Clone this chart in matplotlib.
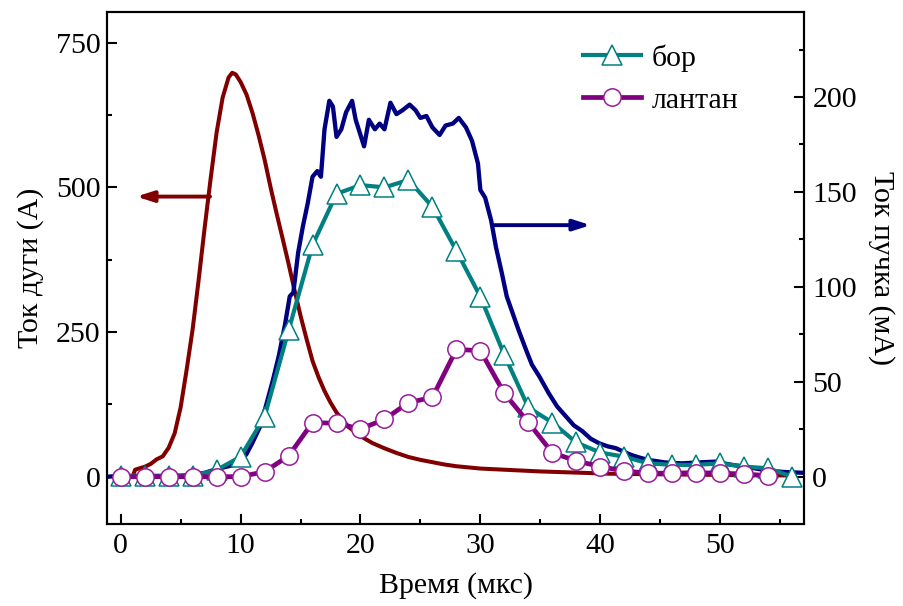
import matplotlib
matplotlib.use("Agg")
import matplotlib.pyplot as plt
from matplotlib.ticker import MultipleLocator

plt.rcParams['font.family'] = ['Liberation Serif', 'DejaVu Serif']

# Arc current (A), left axis
arc_t = [1.0, 1.2, 1.5, 2.0, 2.5, 3.0, 3.5, 4.0, 4.5, 5.0, 5.5, 6.0, 6.5, 7.0, 7.5,
         8.0, 8.5, 9.0, 9.3, 9.6, 10.0, 10.5, 11.0, 11.5, 12.0, 12.5, 13.0, 13.5,
         14.0, 14.5, 15.0, 15.5, 16.0, 16.5, 17.0, 17.5, 18.0, 19.0, 20.0, 21.0,
         22.0, 23.0, 24.0, 25.0, 26.0, 27.0, 28.0, 30.0, 32.0, 35.0, 38.0, 41.0,
         45.0, 50.0, 56.0]
arc_i = [0, 12, 14, 17, 22, 30, 35, 50, 75, 120, 185, 255, 340, 430, 515,
         595, 655, 690, 698, 695, 682, 660, 628, 590, 548, 500, 455, 412,
         368, 322, 278, 238, 200, 172, 148, 128, 111, 86, 70, 58,
         49, 41, 34, 29, 25, 21, 18, 14, 12, 9, 7, 5,
         4, 3, 2]

# Total beam current (mA), right axis
beam_t = [-1.0, 0, 1, 2, 3, 4, 5, 6, 7, 8, 9, 9.9, 10.5, 11.0, 11.6, 12.1, 12.7,
          13.2, 13.7, 14.1, 14.4, 14.8, 15.2, 15.6, 16.0, 16.4, 16.7, 17.0, 17.4,
          17.7, 18.0, 18.4, 18.8, 19.3, 19.6, 20.0, 20.3, 20.7, 21.2, 21.6, 22.0,
          22.5, 23.0, 23.5, 24.1, 24.6, 25.0, 25.5, 26.0, 26.6, 27.1, 27.7, 28.2,
          28.8, 29.3, 29.8, 30.0, 30.4, 30.9, 31.3, 31.8, 32.2, 32.7, 33.2, 33.8,
          34.3, 34.9, 35.7, 36.4, 37.1, 37.8, 38.5, 39.2, 39.9, 40.6, 41.3, 42.0,
          42.6, 43.3, 44.0, 45.4, 46.8, 48.2, 49.6, 50.3, 51.0, 52.3, 53.7, 55.2,
          57.0]
beam_i = [0, 0.5, 0, 0.5, 0, 0.5, 0.5, 1, 2, 4, 5.5, 7, 12, 18, 26, 37, 51,
          64, 80, 95, 97, 118, 132, 144, 158, 161, 158, 183, 198,
          195, 179, 183, 192, 198, 188, 180, 174, 188, 183, 186, 183,
          197, 191, 193, 196, 193, 189, 190, 184, 180, 185, 186, 189,
          184, 177, 165, 151, 147, 135, 121, 107, 95, 86, 77, 67,
          59, 53, 44, 37, 32, 27, 24, 20, 17.6, 16, 15, 13,
          11.4, 10, 8.8, 7.5, 7, 7.5, 7.9, 7, 6.2, 5, 3.5, 2.5,
          2]

# Boron and lanthanum components (mA)
boron_t = list(range(0, 57, 2))
boron_i = [0.5, 0.5, 0.5, 0.5, 3.5, 10.5, 31.6, 77, 122, 149, 153.6, 152.4,
           156.3, 142.2, 119, 94.8, 64.1, 36.5, 28.5, 18, 12.7, 10.5, 7, 6.2,
           6.2, 7, 5.3, 4.4, 0]
lanth_t = list(range(0, 55, 2))
lanth_i = [0, 0, 0, 0, 0, 0, 2.6, 10.9, 28.5, 28.1, 25.1, 30.2, 39, 41.8,
           67, 66.4, 43.9, 28.6, 12.6, 8.3, 5.3, 3, 1.8, 1.8, 2.1, 1.8, 1.4, 0.5]

legend_labels = ['бор', 'лантан']
x_label = 'Время (мкс)'
left_label = 'Ток дуги (А)'
right_label = 'Ток пучка (мА)'

RED = '#800000'
NAVY = '#000080'
TEAL = '#008080'
PURPLE = '#800080'

fig = plt.figure(figsize=(9.04, 6.06), dpi=100)
ax1 = fig.add_axes([0.1187, 0.1361, 0.7707, 0.8441])
ax2 = ax1.twinx()

ax1.plot(arc_t, arc_i, color=RED, lw=2.9, solid_joinstyle='round')
ax2.plot(beam_t, beam_i, color=NAVY, lw=3.1, solid_joinstyle='round')
ax2.plot(boron_t, boron_i, color=TEAL, lw=3.0, marker='^', ms=14,
         mfc='white', mec=TEAL, mew=1.1, solid_joinstyle='round',
         label=legend_labels[0])
ax2.plot(lanth_t, lanth_i, color=PURPLE, lw=3.4, marker='o', ms=12.5,
         mfc='white', mec='#9a1a9a', mew=1.1, solid_joinstyle='round',
         label=legend_labels[1])

# Arrows pointing to the axis each curve belongs to
ax1.annotate('', xy=(1.3, 484), xytext=(7.45, 484),
             arrowprops=dict(arrowstyle='-|>,head_length=1.0,head_width=0.32',
                             color=RED, lw=2.8, shrinkA=0, shrinkB=0))
ax2.annotate('', xy=(39.2, 132.5), xytext=(31.1, 132.5),
             arrowprops=dict(arrowstyle='-|>,head_length=1.0,head_width=0.32',
                             color=NAVY, lw=2.8, shrinkA=0, shrinkB=0))

ax1.set_xlim(-1.12, 57.0)
ax1.set_ylim(-81, 803)
ax2.set_ylim(-24.7, 244.8)

ax1.xaxis.set_major_locator(MultipleLocator(10))
ax1.xaxis.set_minor_locator(MultipleLocator(5))
ax1.yaxis.set_major_locator(MultipleLocator(250))
ax1.yaxis.set_minor_locator(MultipleLocator(125))
ax2.yaxis.set_major_locator(MultipleLocator(50))
ax2.yaxis.set_minor_locator(MultipleLocator(25))

fs = 21.5
for ax in (ax1, ax2):
    for sp in ax.spines.values():
        sp.set_linewidth(1.5)
ax1.tick_params(axis='both', which='major', direction='in', length=7, width=1.5,
                labelsize=fs, pad=5)
ax1.tick_params(axis='both', which='minor', direction='in', length=3.8, width=1.5)
ax1.tick_params(axis='x', pad=7)
ax2.tick_params(axis='y', which='major', direction='in', length=7, width=1.5,
                labelsize=fs, pad=6)
ax2.tick_params(axis='y', which='minor', direction='in', length=3.8, width=1.5)

ax1.set_xlabel(x_label, fontsize=fs, labelpad=9)
ax1.set_ylabel(left_label, fontsize=fs, labelpad=8)
ax2.set_ylabel(right_label, fontsize=fs, rotation=270, labelpad=27)

leg = ax2.legend(loc='upper left', bbox_to_anchor=(0.683, 0.937), frameon=False,
                 fontsize=fs, handlelength=1.95, handletextpad=0.35,
                 labelspacing=0.5, borderpad=0, borderaxespad=0)

fig.savefig('out.png', dpi=100)
